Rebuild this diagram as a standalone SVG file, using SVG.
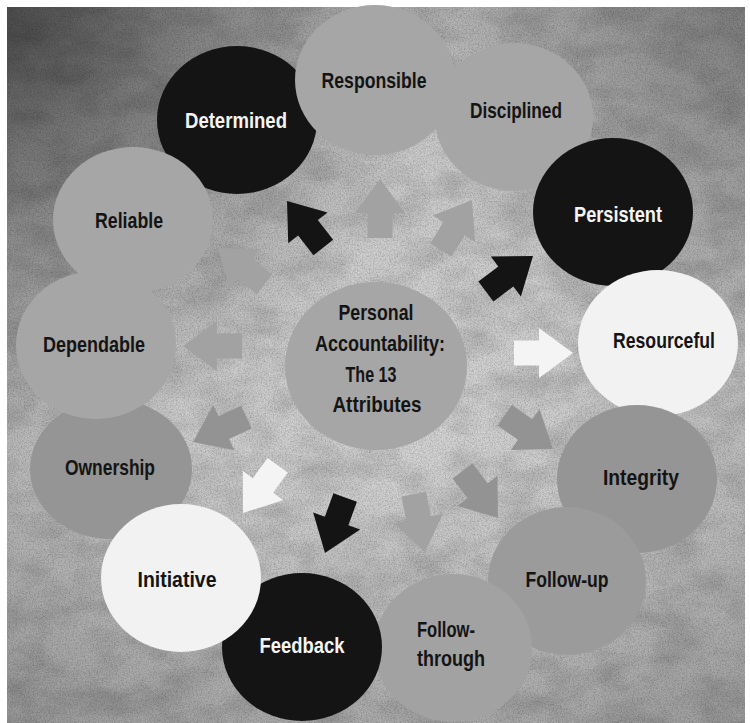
<svg xmlns="http://www.w3.org/2000/svg" xmlns:xlink="http://www.w3.org/1999/xlink" width="750" height="723" viewBox="0 0 750 723">
<style>
.t{font-family:"Liberation Sans",Arial,sans-serif;font-size:22px;font-weight:bold;text-anchor:middle}
.dk{fill:#141414}
.wt{fill:#f4f4f4}
.c-light{fill:#a6a6a6}
.c-mid{fill:#959595}
.c-black{fill:#141414}
.c-white{fill:#f2f2f2}
.a-light{fill:#a2a2a2}
.a-mid{fill:#939393}
.a-black{fill:#141414}
.a-white{fill:#f4f4f4}
</style>
<defs>
<radialGradient id="bg" cx="400" cy="400" r="560" gradientUnits="userSpaceOnUse">
<stop offset="0" stop-color="#d6d6d6"/>
<stop offset="0.45" stop-color="#cbcbcb"/>
<stop offset="0.8" stop-color="#b2b2b2"/>
<stop offset="1" stop-color="#9a9a9a"/>
</radialGradient>
<radialGradient id="tl" cx="10" cy="10" r="430" gradientUnits="userSpaceOnUse">
<stop offset="0" stop-color="#3a3a3a" stop-opacity="0.8"/>
<stop offset="0.55" stop-color="#4a4a4a" stop-opacity="0.35"/>
<stop offset="1" stop-color="#4a4a4a" stop-opacity="0"/>
</radialGradient>
<radialGradient id="tr" cx="745" cy="20" r="330" gradientUnits="userSpaceOnUse">
<stop offset="0" stop-color="#555" stop-opacity="0.45"/>
<stop offset="1" stop-color="#555" stop-opacity="0"/>
</radialGradient>
<linearGradient id="bot" x1="0" y1="480" x2="0" y2="723" gradientUnits="userSpaceOnUse">
<stop offset="0" stop-color="#777" stop-opacity="0"/>
<stop offset="1" stop-color="#777" stop-opacity="0.3"/>
</linearGradient>
<filter id="noise" x="0" y="0" width="100%" height="100%">
<feTurbulence type="fractalNoise" baseFrequency="0.75" numOctaves="2" seed="4"/>
<feColorMatrix type="matrix" values="0 0 0 0 0  0 0 0 0 0  0 0 0 0 0  0.45 0 0 0 -0.17"/>
</filter>
<filter id="cloud" x="0" y="0" width="100%" height="100%">
<feTurbulence type="fractalNoise" baseFrequency="0.02 0.035" numOctaves="4" seed="9"/>
<feColorMatrix type="matrix" values="0 0 0 0 0  0 0 0 0 0  0 0 0 0 0  0.3 0 0 0 -0.11"/>
</filter>
<path id="arr" d="M-59,-12.5 H-34 V-25 L0,0 L-34,25 V12.5 H-59 Z"/>
</defs>

<rect x="0" y="0" width="750" height="723" fill="#ffffff"/>
<g id="background">
<rect x="7" y="7" width="738" height="716" fill="url(#bg)"/>
<rect x="7" y="7" width="738" height="716" fill="url(#tl)"/>
<rect x="7" y="7" width="738" height="716" fill="url(#tr)"/>
<rect x="7" y="7" width="738" height="716" fill="url(#bot)"/>
<rect x="7" y="7" width="738" height="716" filter="url(#cloud)"/>
<rect x="7" y="7" width="738" height="716" filter="url(#noise)"/>
</g>

<g id="connectors">
<use href="#arr" class="a-light" transform="translate(380,179) rotate(-90)"/>
<use href="#arr" class="a-black" transform="translate(287,201) rotate(-128)"/>
<use href="#arr" class="a-light" transform="translate(472,200) rotate(-58)"/>
<use href="#arr" class="a-black" transform="translate(533,256) rotate(-37)"/>
<use href="#arr" class="a-white" transform="translate(573,353) rotate(0)"/>
<use href="#arr" class="a-mid" transform="translate(553,449) rotate(35)"/>
<use href="#arr" class="a-mid" transform="translate(498,518) rotate(53)"/>
<use href="#arr" class="a-light" transform="translate(425,552) rotate(79)"/>
<use href="#arr" class="a-black" transform="translate(325,553) rotate(110)"/>
<use href="#arr" class="a-white" transform="translate(243,513) rotate(126)"/>
<use href="#arr" class="a-mid" transform="translate(193,442) rotate(155)"/>
<use href="#arr" class="a-light" transform="translate(183,346) rotate(180)"/>
<use href="#arr" class="a-light" transform="translate(218,248) rotate(-142)"/>
</g>

<g id="center">
<ellipse cx="376" cy="366" rx="91" ry="84" class="c-light"/>
<text class="t dk" x="376" y="320" textLength="75" lengthAdjust="spacingAndGlyphs">Personal</text>
<text class="t dk" x="380" y="351" textLength="130" lengthAdjust="spacingAndGlyphs">Accountability:</text>
<text class="t dk" x="371" y="382" textLength="51" lengthAdjust="spacingAndGlyphs">The 13</text>
<text class="t dk" x="377" y="412" textLength="89" lengthAdjust="spacingAndGlyphs">Attributes</text>
</g>

<g id="determined">
<ellipse cx="237" cy="120" rx="80" ry="74" class="c-black"/>
<text class="t wt" x="236" y="128" textLength="102" lengthAdjust="spacingAndGlyphs">Determined</text>
</g>
<g id="responsible">
<ellipse cx="375" cy="80" rx="80" ry="75" class="c-light"/>
<text class="t dk" x="374" y="88" textLength="105" lengthAdjust="spacingAndGlyphs">Responsible</text>
</g>
<g id="disciplined">
<ellipse cx="514" cy="117" rx="79" ry="74" class="c-light"/>
<text class="t dk" x="516" y="118" textLength="92" lengthAdjust="spacingAndGlyphs">Disciplined</text>
</g>
<g id="persistent">
<ellipse cx="613" cy="212" rx="80" ry="74" class="c-black"/>
<text class="t wt" x="618" y="222" textLength="88" lengthAdjust="spacingAndGlyphs">Persistent</text>
</g>
<g id="resourceful">
<ellipse cx="658" cy="343" rx="80" ry="73" class="c-white"/>
<text class="t dk" x="664" y="348" textLength="102" lengthAdjust="spacingAndGlyphs">Resourceful</text>
</g>
<g id="integrity">
<ellipse cx="637" cy="479" rx="80" ry="74" class="c-mid"/>
<text class="t dk" x="641" y="485" textLength="76" lengthAdjust="spacingAndGlyphs">Integrity</text>
</g>
<g id="follow-up">
<ellipse cx="567" cy="581" rx="79" ry="74" fill="#9b9b9b"/>
<text class="t dk" x="567" y="587" textLength="83" lengthAdjust="spacingAndGlyphs">Follow-up</text>
</g>
<g id="follow-through">
<ellipse cx="453" cy="648" rx="79" ry="74" fill="#a2a2a2"/>
<text class="t dk" x="417" y="637" style="text-anchor:start" textLength="58" lengthAdjust="spacingAndGlyphs">Follow-</text>
<text class="t dk" x="417" y="666" style="text-anchor:start" textLength="68" lengthAdjust="spacingAndGlyphs">through</text>
</g>
<g id="feedback">
<ellipse cx="302" cy="647" rx="80" ry="74" class="c-black"/>
<text class="t wt" x="302" y="653" textLength="85" lengthAdjust="spacingAndGlyphs">Feedback</text>
</g>
<g id="ownership">
<ellipse cx="111" cy="469" rx="81" ry="70" class="c-mid"/>
<text class="t dk" x="110" y="475" textLength="90" lengthAdjust="spacingAndGlyphs">Ownership</text>
</g>
<g id="initiative">
<ellipse cx="181" cy="578" rx="80" ry="74" class="c-white"/>
<text class="t dk" x="177" y="587" textLength="79" lengthAdjust="spacingAndGlyphs">Initiative</text>
</g>
<g id="dependable">
<ellipse cx="96" cy="345" rx="80" ry="74" class="c-light"/>
<text class="t dk" x="94" y="352" textLength="102" lengthAdjust="spacingAndGlyphs">Dependable</text>
</g>
<g id="reliable">
<ellipse cx="133" cy="220" rx="80" ry="73" class="c-light"/>
<text class="t dk" x="129" y="228" textLength="68" lengthAdjust="spacingAndGlyphs">Reliable</text>
</g>
</svg>
